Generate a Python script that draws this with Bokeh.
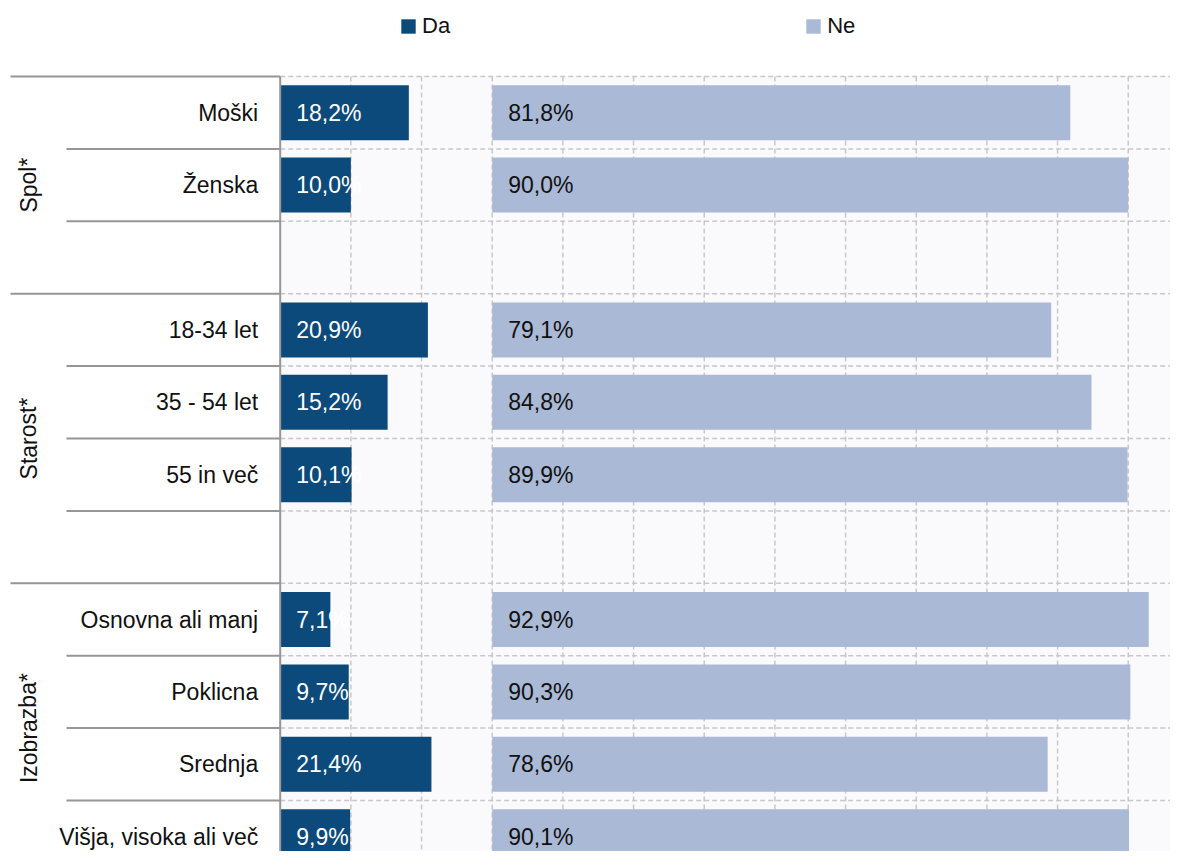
from bokeh.plotting import figure
from bokeh.models import Range1d, Legend, LegendItem, ColumnDataSource
from bokeh.core.properties import value
from bokeh.embed import file_html
from bokeh.resources import INLINE

# ---------------- data ----------------
groups = ["Spol*", "Starost*", "Izobrazba*"]
group_categories = [
    ["Moški", "Ženska"],
    ["18-34 let", "35 - 54 let", "55 in več"],
    ["Osnovna ali manj", "Poklicna", "Srednja", "Višja, visoka ali več"],
]
series = ["Da", "Ne"]
da = [18.2, 10.0, 20.9, 15.2, 10.1, 7.1, 9.7, 21.4, 9.9]
ne = [81.8, 90.0, 79.1, 84.8, 89.9, 92.9, 90.3, 78.6, 90.1]
grid_ticks = list(range(10, 140, 10))

# ---------------- layout constants ----------------
W, H = 1170, 851
PX_PER_UNIT = 7.067      # pixels per percent
ZERO_PX = 279.7          # canvas px of 0 %
ROW_PX = 72.4            # pixels per row
TOP_PX = 76              # canvas px of first row top
NE_OFFSET = 30           # where the "Ne" panel starts
FONT = "Liberation Sans"
FS = "23px"
DA_COLOR = "#0B4A7B"
NE_COLOR = "#AAB9D6"
GRID_COLOR = "#C8C8C8"
LINE_COLOR = "#969696"
TXT = "#111111"

def px_x(canvas_px):
    return (canvas_px - ZERO_PX) / PX_PER_UNIT

x_min = -ZERO_PX / PX_PER_UNIT
x_max = (W - ZERO_PX) / PX_PER_UNIT

# ---------------- rows ----------------
rows_y, cats = [], []
group_start, group_center = [], []
r = 0
for gi, cs in enumerate(group_categories):
    group_start.append(r)
    n = len(cs) + (1 if gi < len(group_categories) - 1 else 0)
    group_center.append(r + n / 2)
    for c in cs:
        rows_y.append(r + 0.5)
        cats.append(c)
        r += 1
    if gi < len(group_categories) - 1:
        r += 1
n_rows = r
inner_lines = [i for i in range(1, n_rows) if i not in group_start]

src = ColumnDataSource(dict(
    y=rows_y, cat=cats, da=da, ne=ne,
    ne_left=[NE_OFFSET] * len(ne),
    ne_right=[NE_OFFSET + v for v in ne],
    da_lab=[f"{v:.1f}".replace(".", ",") + "%" for v in da],
    ne_lab=[f"{v:.1f}".replace(".", ",") + "%" for v in ne],
    zero=[0] * len(da),
))

p = figure(width=W, height=H, output_backend="svg", toolbar_location=None,
           x_range=Range1d(x_min, x_max),
           y_range=Range1d((H - TOP_PX) / ROW_PX, -TOP_PX / ROW_PX),
           x_axis_type=None, y_axis_type=None, min_border=0,
           outline_line_color=None, background_fill_color="white",
           border_fill_color="white")

# plot-area background
p.quad(left=0, right=x_max, top=0, bottom=n_rows, fill_color="#FAFAFD", line_color=None)

# dashed grid
p.segment(x0=grid_ticks, y0=[0] * len(grid_ticks), x1=grid_ticks, y1=[n_rows] * len(grid_ticks),
          line_color=GRID_COLOR, line_width=1.5, line_dash="5 3")
hy = list(range(0, n_rows + 1))
p.segment(x0=[0] * len(hy), y0=hy, x1=[x_max] * len(hy), y1=hy,
          line_color=GRID_COLOR, line_width=1.5, line_dash="5 3")

# bars
r_da = p.hbar(y="y", left="zero", right="da", height=0.76, source=src,
              fill_color=DA_COLOR, line_color=None)
r_ne = p.hbar(y="y", left="ne_left", right="ne_right", height=0.76, source=src,
              fill_color=NE_COLOR, line_color=None)

# axis line
p.segment(x0=[0], y0=[0], x1=[0], y1=[n_rows], line_color=LINE_COLOR, line_width=2)

# separators in label area
p.segment(x0=[px_x(10)] * len(group_start), y0=group_start,
          x1=[0] * len(group_start), y1=group_start, line_color=LINE_COLOR, line_width=2)
p.segment(x0=[px_x(66)] * len(inner_lines), y0=inner_lines,
          x1=[0] * len(inner_lines), y1=inner_lines, line_color=LINE_COLOR, line_width=2)

# value labels
p.text(x="zero", y="y", text="da_lab", source=src, x_offset=16,
       text_font=value(FONT), text_font_size=FS, text_color="white",
       text_baseline="middle", text_align="left")
p.text(x="ne_left", y="y", text="ne_lab", source=src, x_offset=16,
       text_font=value(FONT), text_font_size=FS, text_color=TXT,
       text_baseline="middle", text_align="left")

# category labels
p.text(x="zero", y="y", text="cat", source=src, x_offset=-22,
       text_font=value(FONT), text_font_size=FS, text_color=TXT,
       text_baseline="middle", text_align="right")

# group labels (rotated)
p.text(x=[px_x(28)] * len(groups), y=group_center, text=groups, angle=1.5708,
       text_font=value(FONT), text_font_size=FS, text_color=TXT,
       text_baseline="middle", text_align="center")

# legend
legend = Legend(items=[LegendItem(label=series[0], renderers=[r_da]),
                       LegendItem(label=series[1], renderers=[r_ne])],
                orientation="horizontal", location=(399, 812),
                glyph_width=18, glyph_height=18, label_standoff=5,
                spacing=354, padding=0, margin=0,
                border_line_alpha=0, background_fill_alpha=0,
                label_text_font=FONT, label_text_font_size="22px",
                label_text_color=TXT)
p.add_layout(legend, "center")

open("out.html", "w").write(file_html(p, INLINE))
